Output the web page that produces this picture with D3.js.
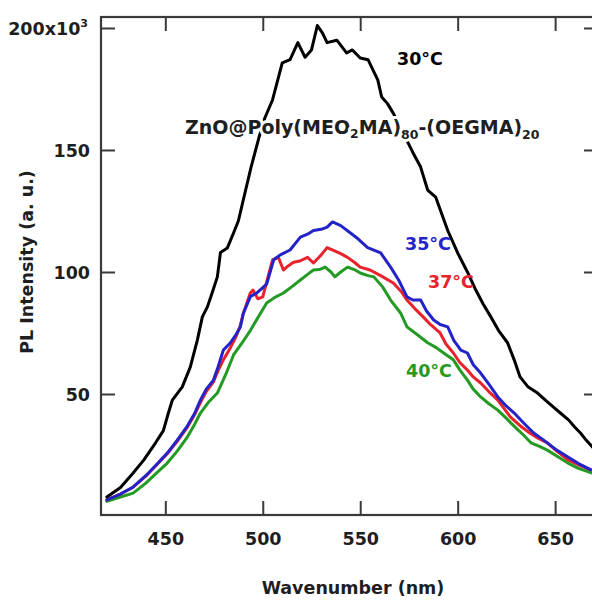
<!DOCTYPE html>
<html>
<head>
<meta charset="utf-8">
<script src="https://cdn.jsdelivr.net/npm/d3@7"></script>
<style>
html, body { margin: 0; padding: 0; background: #fff; }
svg { display: block; }
text { font-family: "DejaVu Sans", sans-serif; font-weight: bold; }
</style>
</head>
<body>
<div id="chart"></div>
<script>
// ---- data ----
const xTicks = [450, 500, 550, 600, 650];
const yTicks = [50, 100, 150, 200];

const wl30 = [420,427,433.5,439,445,449,451.5,453.6,458.7,462.8,466.4,469,471.6,474,476.7,478.3,481.8,485,487.5,490,494,498,501,505,510,514,518,521.7,525,528,530.6,533,538,543,546,550,554,559,561,564,567,572,577,581,584.6,588.7,594.9,600,605,609.3,613,617,621,625.6,629,632,636,641,645,649,653,657,660,663,666,670];
const pl30 = [7.8,11.7,17.6,23,30,35,42,47.5,52.9,61,72,81.6,85.7,91.4,98,108,109.8,116,121,129.5,143,155,163,170.5,185.7,187,194,188,191,201,198,194,195,189.8,191,187.7,187,178.7,171.7,169,165,157,149,143,133.6,130.7,117,107.8,100,92.6,87,81.6,76,71,64,57,53,50.4,47.5,44.7,42,39.3,36.5,34,31,27.5];

const wl35 = [420,427,433.5,440,446,451,456,461,465,468,471,474.7,477,479.8,483.4,486,488.5,490,493.7,497,502,505.6,509,514,519.3,523,526,530,533,535.8,540,545,549,553.8,557,560.5,565.6,569.7,574,577,581,584,587.7,591,594.9,598,601.6,605,608,611.8,616,620.6,625,629,634,639,644.3,650,656.6,662,668.4];
const pl35 = [6.6,9,11.9,16.5,21.5,25.8,31,36.5,42,47.5,52,55.7,61,68,71,74,77.5,83,90,91.4,95,105,107,109,114.3,115.5,117,117.5,118.4,120.5,119,116,113.5,110,109,107.8,102,96.7,89.8,88.5,88.5,84,80.3,78.5,77.5,72,68,66.8,62,58.6,54,48.8,45,42.2,38,34,31,27.5,24.2,21.5,18.9];

const wl37 = [420,427,433.5,440,446,451,456,461,465,468,471,474.7,477,479.8,483.4,486,488.5,490,493.6,495,497.5,500,502,505,508,510.6,513,515.8,519,523,526,530,533,536,540,543.5,547,550,555,560.5,567,571,574,578,582.3,586,591,594,597.8,601,605,608,611.8,616,620.6,627,632,637,641,646,651,656.6,662,668.4];
const pl37 = [6.6,9,11.8,16.3,21.3,25.5,30.5,36,41.5,46.5,51,55,59.5,64,69,73,78,83,91.4,92.6,89,89.8,96,105,106,100.8,102.5,104,104.5,106,103.7,107,110,109,107.5,106,104,102,100.8,98.5,95.5,92,88.5,85,81.6,78.5,75,70.5,66.8,63,59.8,57,54.5,51,47.5,40.6,37,34,32,30,26.5,23,21,18.9];

const wl40 = [420,427,433.5,440,446,451,456,461,465,468,472,476.7,481,485,489,493.6,498,502,506,510.6,515,519.3,523,526,529,532,535,537,540,543.5,547,550,554,557,561.5,565.6,570.7,574,579,584.6,589,592.8,597.8,601,605,608,611.8,616,620.6,625,630,634,637.6,642,646,651,656.6,662,669];
const pl40 = [6,7.8,9.4,13.5,18,21.7,26.5,32,37.5,42.2,46.5,50.4,58,66,70.5,76,82,87.3,89.5,91.4,94,96.7,99,100.8,101,102,100,98,100,102,101,99.6,98.5,98,93.9,88.5,83.2,77.5,74.5,71,69,66.8,64,60,55.7,52,48.8,46,43.4,40,36,33,30,28.5,27,24.5,21.7,19.5,17.6];

const seriesNames = ["30°C", "35°C", "37°C", "40°C"];
const seriesColors = ["#000000", "#2323c8", "#e8232b", "#239a23"];

// ---- layout ----
const W = 592, H = 601;
const mLeft = 101, mTop = 17, mRight = 598, mBottom = 515;
const svg = d3.select("#chart").append("svg").attr("width", W).attr("height", H);

const x = d3.scaleLinear().domain([417, 672]).range([mLeft, mRight]);
const y = d3.scaleLinear().domain([0, 204.5]).range([516, mTop]);

const axisColor = "#3a3a3a";
const fs = 17.5;

// frame
svg.append("rect").attr("x", mLeft).attr("y", mTop)
  .attr("width", mRight - mLeft).attr("height", mBottom - mTop)
  .attr("fill", "none").attr("stroke", axisColor).attr("stroke-width", 2.2);

function styleAxis(g) {
  g.select(".domain").remove();
  g.selectAll(".tick line").attr("stroke", axisColor).attr("stroke-width", 2);
  g.selectAll(".tick text").attr("fill", "#1e1e1e").style("font-size", fs + "px");
}

// bottom
const gx = svg.append("g").attr("transform", `translate(0,${mBottom})`)
  .call(d3.axisBottom(x).tickValues(xTicks).tickSizeInner(-14).tickSizeOuter(0).tickPadding(0));
styleAxis(gx);
gx.selectAll(".tick text").attr("y", 30).attr("dy", "0");
// top
const gxt = svg.append("g").attr("transform", `translate(0,${mTop})`)
  .call(d3.axisTop(x).tickValues(xTicks).tickSizeInner(-14).tickSizeOuter(0).tickFormat(""));
styleAxis(gxt);
// left
const gy = svg.append("g").attr("transform", `translate(${mLeft},0)`)
  .call(d3.axisLeft(y).tickValues(yTicks).tickSizeInner(-14).tickSizeOuter(0).tickPadding(11)
    .tickFormat(d => d === 200 ? "200x10" : String(d)));
styleAxis(gy);
gy.selectAll(".tick text").attr("dy", "0.36em");
gy.selectAll(".tick text").filter(d => d === 200)
  .attr("x", -13)
  .append("tspan").attr("dy", "-0.75em").style("font-size", "11px").text("3");
// right
const gyr = svg.append("g").attr("transform", `translate(${mRight},0)`)
  .call(d3.axisRight(y).tickValues(yTicks).tickSizeInner(-14).tickSizeOuter(0).tickFormat(""));
styleAxis(gyr);

// curves
const seriesData = [[wl30, pl30], [wl35, pl35], [wl37, pl37], [wl40, pl40]];
const line = d3.line().x(d => x(d[0])).y(d => y(d[1]));
const drawOrder = [3, 2, 1, 0];
drawOrder.forEach(i => {
  const [wl, pl] = seriesData[i];
  const pts = wl.map((w, k) => [w, pl[k]]);
  svg.append("path").datum(pts)
    .attr("d", line)
    .attr("fill", "none")
    .attr("stroke", seriesColors[i])
    .attr("stroke-width", 3)
    .attr("stroke-linejoin", "round")
    .attr("stroke-linecap", "round");
});

// annotations
const labelPos = [[397, 65], [405, 250], [428, 288], [406, 377]];
seriesNames.forEach((n, i) => {
  svg.append("text").attr("x", labelPos[i][0]).attr("y", labelPos[i][1])
    .attr("fill", seriesColors[i]).style("font-size", fs + "px").text(n);
});

const comp = svg.append("text").attr("x", 185).attr("y", 134)
  .attr("fill", "#1e1e1e").style("font-size", "19px")
  .attr("stroke", "#fff").attr("stroke-width", 6).attr("stroke-linejoin", "round")
  .style("paint-order", "stroke");
comp.append("tspan").text("ZnO@Poly(MEO");
comp.append("tspan").attr("dy", 4).style("font-size", "12.5px").text("2");
comp.append("tspan").attr("dy", -4).text("MA)");
comp.append("tspan").attr("dy", 5).style("font-size", "12.5px").text("80");
comp.append("tspan").attr("dy", -5).text("-(OEGMA)");
comp.append("tspan").attr("dy", 5).style("font-size", "12.5px").text("20");

// axis titles
svg.append("text").attr("x", 353).attr("y", 594).attr("text-anchor", "middle")
  .attr("fill", "#1e1e1e").style("font-size", fs + "px").text("Wavenumber (nm)");
svg.append("text").attr("transform", "translate(33,262) rotate(-90)").attr("text-anchor", "middle")
  .attr("fill", "#1e1e1e").style("font-size", fs + "px").text("PL Intensity (a. u.)");
</script>
</body>
</html>
